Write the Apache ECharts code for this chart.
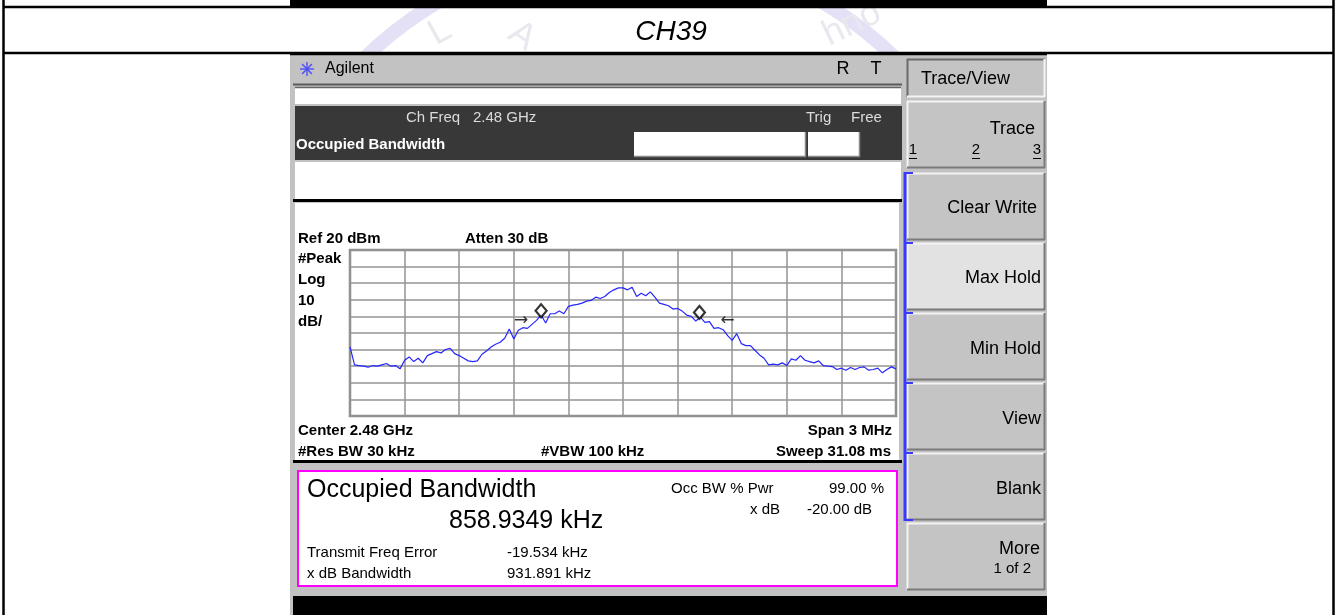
<!DOCTYPE html>
<html>
<head>
<meta charset="utf-8">
<script src="https://cdn.jsdelivr.net/npm/echarts@6/dist/echarts.min.js"></script>
<style>
html,body{margin:0;padding:0;background:#fff;}
#c{width:1344px;height:615px;}
</style>
</head>
<body>
<div id="c"></div>
<script>
// ---------------- data ----------------
const channelTitle = 'CH39';
const centerFreqGHz = 2.48;
const spanKHz = 3000;          // 3 MHz span
const pointStepKHz = 25;        // trace point spacing
const refLevelDbm = 20;
const dbPerDiv = 10;
const bottomDbm = -80;
// trace amplitude (dBm), read left -> right across the 3 MHz span
const traceDbm = [
 -38.4,-49.2,-49.6,-50.0,-50.6,-49.6,-50.0,-49.2,-48.4,-50.0,
 -49.6,-51.6,-46.4,-44.4,-47.2,-45.2,-48.0,-43.6,-42.4,-41.2,
 -42.0,-40.0,-39.2,-42.4,-43.6,-45.2,-46.8,-47.2,-46.8,-42.8,
 -40.8,-38.4,-36.8,-35.6,-33.2,-27.6,-33.6,-28.4,-26.8,-27.2,
 -24.8,-22.4,-19.2,-24.0,-18.4,-18.4,-16.8,-18.4,-14.0,-13.2,
 -12.8,-12.0,-10.8,-10.4,-8.4,-9.2,-8.0,-5.6,-4.0,-2.8,
 -2.8,-4.0,-2.4,-8.0,-6.0,-7.6,-5.2,-8.4,-12.0,-12.8,
 -13.6,-15.6,-15.2,-16.8,-19.2,-20.0,-22.8,-20.4,-23.6,-23.2,
 -27.2,-26.8,-28.0,-31.6,-34.4,-30.4,-36.4,-37.6,-37.6,-40.4,
 -43.2,-45.2,-49.2,-48.8,-49.2,-48.0,-49.6,-45.6,-46.4,-43.6,
 -46.4,-47.2,-48.0,-46.8,-49.6,-50.0,-50.2,-52.0,-51.2,-52.4,
 -50.8,-52.0,-50.8,-50.4,-52.4,-52.0,-51.2,-54.0,-52.0,-50.4,
 -51.6
];
// occupied-bandwidth markers (offset kHz, dBm)
const obwMarkers = [[-450,-16.6],[420,-17.6]];
// x dB bandwidth arrows (offset kHz, dBm, glyph)
const xdbArrows = [[-560,-22.4,'\u2192'],[575,-22.4,'\u2190']];

const headerTexts = ['Ch Freq','2.48 GHz','Trig','Free'];
const setupTop = ['Ref 20 dBm','Atten 30 dB'];
const scaleTexts = ['#Peak','Log','10','dB/'];
const setupBottom = ['Center 2.48 GHz','Span 3 MHz','#Res BW 30 kHz','#VBW 100 kHz','Sweep 31.08 ms'];
const resultTitle = 'Occupied Bandwidth';
const resultValue = '858.9349 kHz';
const resultParams = [['Occ BW % Pwr','99.00 %'],['x dB','-20.00 dB']];
const resultRows = [['Transmit Freq Error','-19.534 kHz'],['x dB Bandwidth','931.891 kHz']];
const softkeys = ['Trace','Clear Write','Max Hold','Min Hold','View','Blank','More'];

// ---------------- drawing ----------------
const FONT = '"Liberation Sans", Arial, Helvetica, sans-serif';
const BOLD = 'bold 15px '+FONT;
const SMALL = '15px '+FONT;
const G = [];
function rect(x,y,w,h,fill,z){G.push({type:'rect',silent:true,z:z==null?-10:z,shape:{x:x,y:y,width:w,height:h},style:{fill:fill}});}
function ln(x1,y1,x2,y2,stroke,lw,z){G.push({type:'line',silent:true,z:z==null?-9:z,shape:{x1:x1,y1:y1,x2:x2,y2:y2},style:{stroke:stroke,lineWidth:lw}});}
function txt(x,y,t,font,fill,align,rot,z){G.push({type:'text',silent:true,z:z==null?50:z,x:x,y:y,rotation:rot||0,style:{text:t,font:font,fill:fill||'#000',textAlign:align||'left',align:align||'left',textVerticalAlign:'middle',verticalAlign:'middle'}});}
function bevel(x,y,w,h,fill,light,dark){
  rect(x,y,w,h,fill);
  ln(x,y+0.5,x+w,y+0.5,light,2); ln(x+0.5,y,x+0.5,y+h,light,2);
  ln(x,y+h-0.5,x+w,y+h-0.5,dark,2); ln(x+w-0.5,y,x+w-0.5,y+h,dark,2);
}

// watermark (only the part above the screenshot is visible)
G.push({type:'arc',silent:true,z:-30,shape:{cx:630,cy:330,r:380,startAngle:3.93,endAngle:5.50},style:{stroke:'#e4e1f7',lineWidth:14,fill:null}});
txt(440,32,'L','36px '+FONT,'#e8e8ee','center',0.5,-29);
txt(522,36,'A','36px '+FONT,'#e8e8ee','center',-0.6,-29);
txt(852,24,'hno','36px '+FONT,'#e8e8ee','center',0.45,-29);

// table frame
rect(290,0,757,6,'#000',-20);
ln(3,7,1334,7,'#000',2.5,-5);
ln(3,53,1334,53,'#000',2.5,-5);
ln(3.5,0,3.5,615,'#000',2.5,-5);
ln(1333.5,0,1333.5,615,'#000',2.5,-5);
txt(671,32,channelTitle,'italic 28px '+FONT,'#000','center');

// screenshot body
rect(290,54,757,561,'#c2c2c2',-20);
ln(290,54.5,1047,54.5,'#000',1.5,-9);
// title bar
ln(293,84.5,902,84.5,'#5a5a5a',2);
for(let k=0;k<8;k++){const a=k*Math.PI/4;ln(307,69,307+7*Math.cos(a),69+7*Math.sin(a),'#4a4aff',1.3,40);}
txt(325,69,'Agilent','16px '+FONT,'#000');
txt(843,69,'R','18px '+FONT,'#000','center');
txt(876,69,'T','18px '+FONT,'#000','center');
// white strip
rect(295,87,606,17,'#fff');
ln(295,87.5,901,87.5,'#666',1.5);
// dark header bar
rect(295,106,607,54,'#383838');
txt(406,118,headerTexts[0],SMALL,'#dcdcdc');
txt(473,118,headerTexts[1],SMALL,'#dcdcdc');
txt(806,118,headerTexts[2],SMALL,'#dcdcdc');
txt(851,118,headerTexts[3],SMALL,'#dcdcdc');
txt(296,145,'Occupied Bandwidth',BOLD,'#fff');
rect(634,132,172,25,'#fff'); ln(634,156.5,806,156.5,'#888',1.5); ln(805.5,132,805.5,157,'#888',1.5);
rect(808,132,52,25,'#fff'); ln(808,156.5,860,156.5,'#888',1.5); ln(859.5,132,859.5,157,'#888',1.5);
// white info area
rect(295,162,606,37,'#fff');
ln(293,200.5,902,200.5,'#000',3);
// chart panel
rect(295,203,604,257,'#fff');
ln(293,461.5,902,461.5,'#000',3);
txt(298,239,setupTop[0],BOLD);
txt(465,239,setupTop[1],BOLD);
scaleTexts.forEach((t,i)=>txt(298,259+i*21,t,BOLD));
txt(298,431,setupBottom[0],BOLD);
txt(892,431,setupBottom[1],BOLD,'#000','right');
txt(298,452,setupBottom[2],BOLD);
txt(541,452,setupBottom[3],BOLD);
txt(891,452,setupBottom[4],BOLD,'#000','right');
// results panel
rect(297,470,601,117,'#fff');
G.push({type:'rect',silent:true,z:-8,shape:{x:298,y:471,width:599,height:115},style:{fill:null,stroke:'#ff00ff',lineWidth:2}});
txt(307,490,resultTitle,'25px '+FONT);
txt(449,521,resultValue,'25px '+FONT);
txt(671,489,resultParams[0][0],SMALL);
txt(884,489,resultParams[0][1],SMALL,'#000','right');
txt(780,510,resultParams[1][0],SMALL,'#000','right');
txt(872,510,resultParams[1][1],SMALL,'#000','right');
txt(307,553,resultRows[0][0],SMALL);
txt(507,553,resultRows[0][1],SMALL);
txt(307,574,resultRows[1][0],SMALL);
txt(507,574,resultRows[1][1],SMALL);
rect(293,596,754,19,'#000');

// softkeys
bevel(907,59,138,38,'#c4c4c4','#6a6a6a','#f4f4f4');
txt(921,79,'Trace/View','18px '+FONT);
const keyTops=[101,173,243,313,383,453,523];
softkeys.forEach((k,i)=>{
  bevel(907,keyTops[i],138,67,i===2?'#e2e2e2':'#c4c4c4','#f4f4f4','#7a7a7a');
});
txt(1035,129,softkeys[0],'18px '+FONT,'#000','right');
[[913,'1'],[976,'2'],[1037,'3']].forEach(d=>{txt(d[0],150,d[1],SMALL,'#000','center');ln(d[0]-4,158.5,d[0]+4,158.5,'#000',1,40);});
txt(1037,208,softkeys[1],'18px '+FONT,'#000','right');
txt(1041,278,softkeys[2],'18px '+FONT,'#000','right');
txt(1041,349,softkeys[3],'18px '+FONT,'#000','right');
txt(1041,419,softkeys[4],'18px '+FONT,'#000','right');
txt(1041,489,softkeys[5],'18px '+FONT,'#000','right');
txt(1040,549,softkeys[6],'18px '+FONT,'#000','right');
txt(1031,569,'1 of 2',SMALL,'#000','right');
ln(905,172,905,521,'#3a3aff',3,5);
[173,243,313,383,453,520].forEach(y=>ln(904,y,913,y,'#3a3aff',2,5));

// ---------------- chart ----------------
const tracePts = traceDbm.map((v,i)=>[-spanKHz/2 + i*pointStepKHz, v]);
const chart = echarts.init(document.getElementById('c'));
chart.setOption({
  animation:false,
  backgroundColor:'#fff',
  graphic:{elements:G},
  grid:{left:350,top:250,width:546,height:166,show:true,borderColor:'#8a8a8a',borderWidth:2.5},
  xAxis:{type:'value',min:-spanKHz/2,max:spanKHz/2,interval:spanKHz/10,
    axisLine:{show:false},axisTick:{show:false},axisLabel:{show:false},
    splitLine:{show:true,lineStyle:{color:'#939393',width:1.5}}},
  yAxis:{type:'value',min:bottomDbm,max:refLevelDbm,interval:dbPerDiv,
    axisLine:{show:false},axisTick:{show:false},axisLabel:{show:false},
    splitLine:{show:true,lineStyle:{color:'#939393',width:1.5}}},
  series:[
    {type:'line',data:tracePts,showSymbol:false,symbol:'none',z:5,
     lineStyle:{color:'#2626ff',width:1.2}},
    {type:'scatter',data:obwMarkers,symbol:'diamond',symbolSize:[11,13],z:6,
     itemStyle:{color:'#fff',borderColor:'#000',borderWidth:2.2}},
    {type:'scatter',data:xdbArrows,symbolSize:1,z:6,itemStyle:{color:'rgba(0,0,0,0)'},
     label:{show:true,position:'inside',formatter:p=>p.data[2],fontSize:17,color:'#000',fontFamily:'DejaVu Sans'}}
  ]
});
</script>
</body>
</html>
